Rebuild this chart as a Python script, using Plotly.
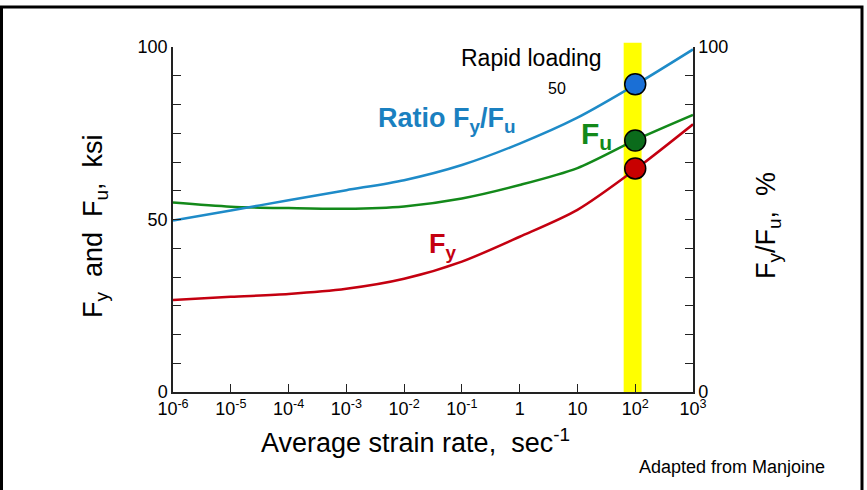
import plotly.graph_objects as go

# Data
strain_rate = [1e-6, 1e-5, 1e-4, 1e-3, 1e-2, 1e-1, 1, 10, 100, 1000]
fy_ksi = [26.7, 27.6, 28.4, 29.9, 32.8, 37.8, 45.0, 52.8, 64.5, 77.6]
fu_ksi = [54.9, 53.7, 53.3, 53.1, 53.8, 56.1, 60.0, 64.9, 73.0, 80.3]
ratio_pct = [49.7, 52.6, 55.6, 58.5, 61.4, 65.8, 72.0, 79.5, 89.0, 99.3]

rapid_rate = [100]
rapid_ratio = [89.2]
rapid_fu = [72.9]
rapid_fy = [64.8]

rapid_band = [10 ** 1.8, 10 ** 2.11]

x_tickvals = [1e-6, 1e-5, 1e-4, 1e-3, 1e-2, 1e-1, 1, 10, 100, 1000]
x_ticktext = ["10<sup>-6</sup>", "10<sup>-5</sup>", "10<sup>-4</sup>", "10<sup>-3</sup>",
              "10<sup>-2</sup>", "10<sup>-1</sup>", "1", "10", "10<sup>2</sup>", "10<sup>3</sup>"]
y_tickvals = [i * 100 / 12 for i in range(13)]
y_left_text = ["0"] + [""] * 5 + ["50"] + [""] * 5 + ["100"]
y_right_text = ["0"] + [""] * 11 + ["100"]

FONT = "Liberation Sans, Arial, sans-serif"
BLUE = "#1e8bc8"
GREEN = "#13891a"
RED = "#c40010"
NB = "\u00a0"

fig = go.Figure()

fig.add_trace(go.Scatter(x=strain_rate, y=ratio_pct, mode="lines",
                         line=dict(color=BLUE, width=2.5, shape="spline", smoothing=0.8),
                         yaxis="y2", showlegend=False, hoverinfo="skip"))
fig.add_trace(go.Scatter(x=strain_rate, y=fu_ksi, mode="lines",
                         line=dict(color=GREEN, width=2.5, shape="spline", smoothing=0.8),
                         showlegend=False, hoverinfo="skip"))
fig.add_trace(go.Scatter(x=strain_rate, y=fy_ksi, mode="lines",
                         line=dict(color=RED, width=2.5, shape="spline", smoothing=0.8),
                         showlegend=False, hoverinfo="skip"))

fig.add_trace(go.Scatter(x=rapid_rate, y=rapid_ratio, mode="markers", yaxis="y2",
                         marker=dict(size=21, color="#1a6fd6", line=dict(color="black", width=1.5)),
                         showlegend=False, cliponaxis=False))
fig.add_trace(go.Scatter(x=rapid_rate, y=rapid_fu, mode="markers",
                         marker=dict(size=21, color="#0b6b1b", line=dict(color="black", width=1.5)),
                         showlegend=False, cliponaxis=False))
fig.add_trace(go.Scatter(x=rapid_rate, y=rapid_fy, mode="markers",
                         marker=dict(size=21, color="#c80000", line=dict(color="black", width=1.5)),
                         showlegend=False, cliponaxis=False))

shapes = [
    dict(type="rect", xref="x", yref="paper",
         x0=rapid_band[0], x1=rapid_band[1], y0=0, y1=1.012,
         fillcolor="#ffff00", line=dict(width=0), layer="below"),
    dict(type="rect", xref="paper", yref="paper",
         x0=-0.3298, x1=1.325, y0=-0.4, y1=1.116,
         line=dict(color="black", width=3), fillcolor="rgba(0,0,0,0)"),
]

def px(xp):
    return (xp - 173) / 520

def py(yp):
    return (392 - yp) / 345

annotations = [
    dict(text="Rapid loading", x=px(531), y=py(58), xref="paper", yref="paper",
         showarrow=False, font=dict(size=23, color="black", family=FONT), xanchor="center", yanchor="middle"),
    dict(text="50", x=px(557), y=py(89), xref="paper", yref="paper",
         showarrow=False, font=dict(size=16, color="black", family=FONT), xanchor="center", yanchor="middle"),
    dict(text="<b>Ratio F<sub>y</sub>/F<sub>u</sub></b>", x=px(376), y=py(120),
         xref="paper", yref="paper", showarrow=False,
         font=dict(size=27, color="#1a80c0", family=FONT), xanchor="left", yanchor="middle"),
    dict(text="<b>F<sub>u</sub></b>", x=px(579), y=py(135),
         xref="paper", yref="paper", showarrow=False,
         font=dict(size=30, color=GREEN, family=FONT), xanchor="left", yanchor="middle"),
    dict(text="<b>F<sub>y</sub></b>", x=px(427), y=py(246),
         xref="paper", yref="paper", showarrow=False,
         font=dict(size=27, color=RED, family=FONT), xanchor="left", yanchor="middle"),
    dict(text="F<sub>y</sub>" + NB * 2 + "and" + NB * 2 + "F<sub>u</sub>," + NB * 2 + "ksi",
         x=px(95), y=py(226), xref="paper", yref="paper", showarrow=False,
         textangle=-90, font=dict(size=27, color="black", family=FONT), xanchor="center", yanchor="middle"),
    dict(text="F<sub>y</sub>/F<sub>u</sub>," + NB * 2 + "%",
         x=px(768), y=py(226), xref="paper", yref="paper", showarrow=False,
         textangle=-90, font=dict(size=27, color="black", family=FONT), xanchor="center", yanchor="middle"),
    dict(text="Average strain rate," + NB * 2 + "sec<sup>-1</sup>",
         x=px(415), y=py(441), xref="paper", yref="paper", showarrow=False,
         font=dict(size=27, color="black", family=FONT), xanchor="center", yanchor="middle"),
    dict(text="Adapted from Manjoine",
         x=px(732), y=py(467), xref="paper", yref="paper", showarrow=False,
         font=dict(size=18, color="black", family=FONT), xanchor="center", yanchor="middle"),
]

axis_common = dict(ticks="inside", ticklen=8, tickwidth=1.2, tickcolor="#222",
                   showline=True, linecolor="#222", linewidth=1.5, showgrid=False, zeroline=False,
                   tickfont=dict(size=18, family=FONT))

fig.update_layout(
    width=867, height=490,
    margin=dict(l=173, r=174, t=47, b=98, pad=0),
    paper_bgcolor="white", plot_bgcolor="white",
    font=dict(family=FONT, color="black", size=18),
    showlegend=False,
    shapes=shapes,
    annotations=annotations,
    xaxis=dict(type="log", range=[-6, 3], tickvals=x_tickvals, ticktext=x_ticktext, **axis_common),
    yaxis=dict(range=[0, 100], tickvals=y_tickvals, ticktext=y_left_text, **axis_common),
    yaxis2=dict(range=[0, 100], tickvals=y_tickvals, ticktext=y_right_text, overlaying="y", side="right",
                **axis_common),
)

fig.write_html("out.html", config={"displayModeBar": False},
               post_script="document.body.style.margin='0px';document.body.style.overflow='hidden';")
